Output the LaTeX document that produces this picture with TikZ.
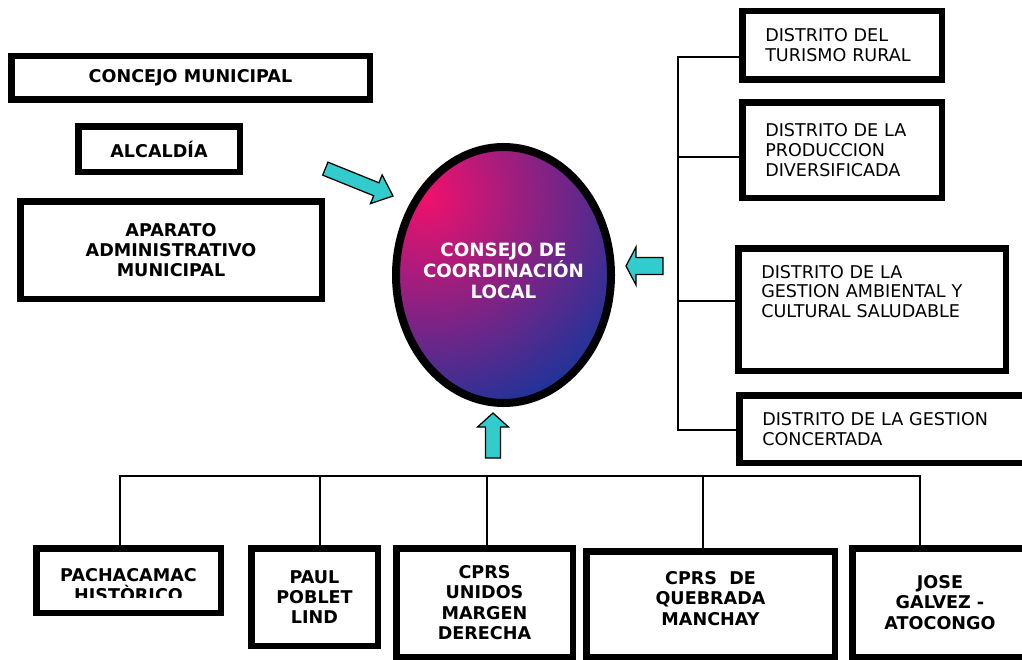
\documentclass[tikz,border=0pt]{standalone}
\usepackage{fontspec}
\setmainfont{DejaVu Sans}
\usetikzlibrary{shapes.geometric}
\definecolor{cclpink}{HTML}{F2106C}
\definecolor{cclblue}{HTML}{1F3399}
\definecolor{arrowcyan}{HTML}{33CCCC}
\tikzset{
  boldtext/.style={inner sep=0cm, align=center, font=\bfseries\fontsize{10}{11.5}\selectfont},
  heavybox/.style={boldtext, draw, line width=0.130000cm, fill=white},
  distbox/.style={draw, line width=0.130000cm, fill=white, inner xsep=0.460000cm, inner ysep=0cm, align=left, font=\fontsize{10}{11.3}\selectfont},
  cclshape/.style={ellipse, draw, line width=0.160000cm, inner sep=0cm,
    path picture={\shade [inner color=cclpink, outer color=cclblue] ([xshift=-1.570000cm, yshift=1.600000cm]path picture bounding box.center) circle (4.600000);}},
  ccltext/.style={inner sep=0cm, text=white, align=center, font=\bfseries\fontsize{10.4}{11.9}\selectfont},
  thinline/.style={line width=0.035000cm},
  blockarrow/.style={draw, line width=0.025000cm, fill=arrowcyan, line join=miter}
}
\begin{document}
\begin{tikzpicture}
                \useasboundingbox (0,0) rectangle (20.440000,13.180000);%
                \clip (0,0) rectangle (20.440000,13.180000);%

                % Marking box concejo
                \node [heavybox, minimum width=7.170000cm, minimum height=0.870000cm] (concejo) at (3.810000,11.620000) {CONCEJO MUNICIPAL};%

                % Marking box alcaldia
                \node [heavybox, minimum width=3.230000cm, minimum height=0.910000cm] (alcaldia) at (3.180000,10.200000) {ALCALDÍA};%

                % Marking box aparato
                \node [heavybox, minimum width=6.030000cm, minimum height=1.950000cm] (aparato) at (3.420000,8.180000) {APARATO\\ADMINISTRATIVO\\MUNICIPAL};%

                % Marking ellipse ccl
                \node [cclshape, minimum width=4.300000cm, minimum height=5.120000cm] (ccl) at (10.070000,7.680000) {};%
                \node [ccltext] (ccl text) at (10.070000,7.760000) {CONSEJO DE\\COORDINACIÓN\\LOCAL};%

                % Marking box turismo
                \node [distbox, text width=3.070000cm, minimum height=1.370000cm] (turismo) at (16.840000,12.270000) {DISTRITO DEL\\TURISMO RURAL};%

                % Marking box produccion
                \node [distbox, text width=3.070000cm, minimum height=1.910000cm] (produccion) at (16.840000,10.180000) {DISTRITO DE LA\\PRODUCCION\\DIVERSIFICADA};%

                % Marking box ambiental
                \node [distbox, text width=4.430000cm, minimum height=2.450000cm, text height=0.260000cm, text depth=1.520000cm] (ambiental) at (17.440000,6.990000) {DISTRITO DE LA\\GESTION AMBIENTAL Y\\CULTURAL SALUDABLE};%

                % Marking box concertada
                \node [distbox, text width=5.030000cm, minimum height=1.350000cm] (concertada) at (17.760000,4.600000) {DISTRITO DE LA GESTION\\CONCERTADA};%

                % Marking box pachacamac
                \node [heavybox, minimum width=3.690000cm, minimum height=1.290000cm] (pachacamac) at (2.570000,1.570000) {};%
                \begin{scope}
                \clip (0.660000,1.230000) rectangle (4.480000,2.900000);%
                \node [boldtext] (pachacamac text) at (2.570000,1.480000) {PACHACAMAC\\HISTÒRICO};%
                \end{scope}

                % Marking box paul
                \node [heavybox, minimum width=2.530000cm, minimum height=1.950000cm] (paul) at (6.290000,1.240000) {PAUL\\POBLET\\LIND};%

                % Marking box unidos
                \node [heavybox, minimum width=3.530000cm, minimum height=2.170000cm] (unidos) at (9.690000,1.130000) {CPRS\\UNIDOS\\MARGEN\\DERECHA};%

                % Marking box quebrada
                \node [heavybox, minimum width=4.970000cm, minimum height=2.110000cm, text height=1.000000cm, text depth=0.160000cm] (quebrada) at (14.210000,1.100000) {CPRS~ DE\\QUEBRADA\\MANCHAY};%

                % Marking box jose
                \node [heavybox, minimum width=3.510000cm, minimum height=2.170000cm] (jose) at (18.800000,1.130000) {JOSE\\GALVEZ -\\ATOCONGO};%

                % Drawing right trunk
                \coordinate (rtop) at (13.560000,12.040000);%
                \coordinate (r2) at (13.560000,10.040000);%
                \coordinate (r3) at (13.560000,7.160000);%
                \coordinate (rbottom) at (13.560000,4.580000);%
                \draw [thinline] (rtop -| turismo.west) -- (rtop) -- (rbottom) -- (rbottom -| concertada.west);%
                \draw [thinline] (r2) -- (r2 -| produccion.west);%
                \draw [thinline] (r3) -- (r3 -| ambiental.west);%

                % Drawing bottom trunk
                \coordinate (bleft) at (2.400000,3.660000);%
                \coordinate (b2) at (6.400000,3.660000);%
                \coordinate (b3) at (9.740000,3.660000);%
                \coordinate (b4) at (14.060000,3.660000);%
                \coordinate (bright) at (18.400000,3.660000);%
                \draw [thinline] (bleft |- pachacamac.north) -- (bleft) -- (bright) -- (bright |- jose.north);%
                \draw [thinline] (b2) -- (b2 |- paul.north);%
                \draw [thinline] (b3) -- (b3 |- unidos.north);%
                \draw [thinline] (b4) -- (b4 |- quebrada.north);%

                % Drawing arrow from the left boxes
                \draw [blockarrow, shift={(7.860000,9.260000)}, rotate=-22] (0,0) -- (-0.360000,0.310000) -- (-0.360000,0.140000) -- (-1.460000,0.140000) -- (-1.460000,-0.140000) -- (-0.360000,-0.140000) -- (-0.360000,-0.310000) -- cycle;%

                % Drawing arrow from the districts
                \draw [blockarrow, shift={(12.520000,7.860000)}, rotate=180] (0,0) -- (-0.200000,0.380000) -- (-0.200000,0.170000) -- (-0.740000,0.170000) -- (-0.740000,-0.170000) -- (-0.200000,-0.170000) -- (-0.200000,-0.380000) -- cycle;%

                % Drawing arrow from the bottom boxes
                \draw [blockarrow, shift={(9.860000,4.920000)}, rotate=90] (0,0) -- (-0.280000,0.310000) -- (-0.280000,0.150000) -- (-0.900000,0.150000) -- (-0.900000,-0.150000) -- (-0.280000,-0.150000) -- (-0.280000,-0.310000) -- cycle;%
\end{tikzpicture}
\end{document}
